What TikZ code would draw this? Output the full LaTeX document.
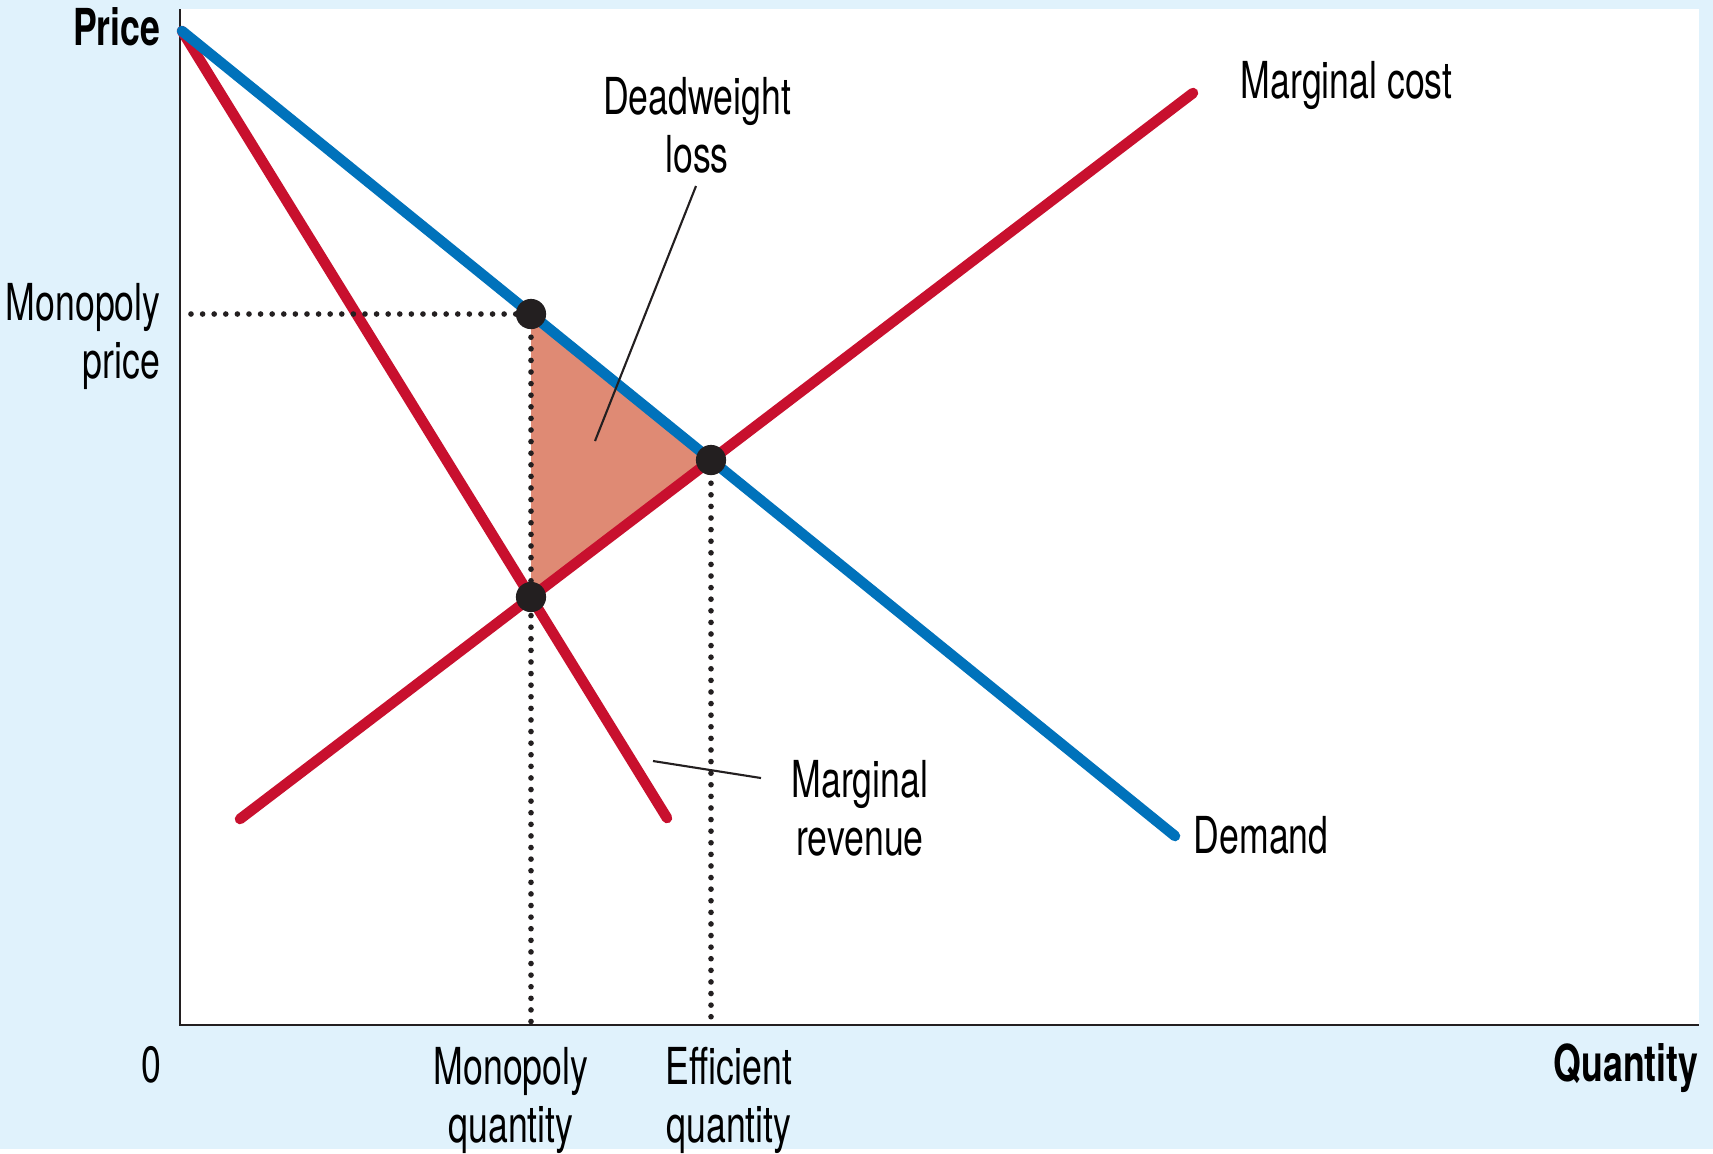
\documentclass[tikz,border=0pt]{standalone}
\usepackage{fontspec}
\setmainfont{TeX Gyre Heros}[FakeStretch=0.7]
\usepackage{tikz}
\usetikzlibrary{positioning,calc}
\definecolor{bgblue}{HTML}{E0F2FC}
\definecolor{demandblue}{HTML}{0072BB}
\definecolor{curvered}{HTML}{C8102E}
\definecolor{dwlfill}{HTML}{DF8A74}
\definecolor{dotblack}{HTML}{231F20}
\tikzset{
  curve/.style={line width=3pt, line cap=round},
  guide/.style={dotblack, line width=1.6pt, line cap=round, dash pattern=on 0pt off 3.3pt},
  eqpoint/.style={circle, fill=dotblack, inner sep=0pt, minimum size=8.6pt},
  lbl/.style={font=\fontsize{14.5}{16.5}\selectfont, inner sep=0pt, align=center},
  leader/.style={line width=0.6pt, dotblack}
}
\begin{document}
\begin{tikzpicture}[x=0.1mm,y=-0.1mm]
    % Background and plot area
    \fill[bgblue] (0,0) rectangle (1713,1149);
    \fill[white] (180,9) rectangle (1699,1025);

    % Axes
    \coordinate (O) at (180,1025);
    \draw[line width=0.8pt, dotblack] (180,9) -- (O) -- (1699,1025);

    % Curve end points
    \coordinate (top) at (182,31);
    \coordinate (Dend) at (1175,836);
    \coordinate (MRend) at (667,818);
    \coordinate (MCstart) at (240,819);
    \coordinate (MCend) at (1193,93);

    % Key points
    \coordinate (Pm) at (531,314);
    \coordinate (Pe) at (711,460);
    \coordinate (Pc) at (531,597);

    % Deadweight loss
    \fill[dwlfill] (Pm) -- (Pe) -- (Pc) -- cycle;

    % Curves
    \draw[curve, curvered] (top) -- (MRend);
    \draw[curve, curvered] (MCstart) -- (MCend);
    \draw[curve, demandblue] (top) -- (Dend);

    % Guides
    \draw[guide] (191,314) -- (Pm);
    \draw[guide] (Pm) -- (531,1022);
    \draw[guide] (Pe) -- (711,1022);

    % Points
    \node[eqpoint] (m) at (Pm) {};
    \node[eqpoint] (e) at (Pe) {};
    \node[eqpoint] (c) at (Pc) {};

    % Axis labels
    \node[lbl, anchor=east, font=\fontsize{14.5}{16.5}\selectfont\bfseries] (price) at (161,27) {Price};
    \node[lbl, anchor=east, align=right] (mprice) at (161,336) {Monopoly\\price};
    \node[lbl] (zero) at (151,1065) {0};
    \node[lbl] (mq) at (511,1100) {Monopoly\\quantity};
    \node[lbl] (eq) at (729,1100) {Efficient\\quantity};
    \node[lbl, anchor=east, font=\fontsize{14.5}{16.5}\selectfont\bfseries] (qty) at (1699,1068) {Quantity};

    % Curve labels
    \node[lbl, anchor=west] (mc) at (1240,85) {Marginal cost};
    \node[lbl, anchor=west] (dem) at (1193,835) {Demand};
    \node[lbl] (dwl) at (697,125) {Deadweight\\loss};
    \node[lbl] (mr) at (860,808) {Marginal\\revenue};

    % Leaders
    \coordinate (dwltip) at (595,441);
    \coordinate (mrtip) at (653,761);
    \draw[leader] (696,186) -- (dwltip);
    \draw[leader] (761,778) -- (mrtip);
\end{tikzpicture}
\end{document}
